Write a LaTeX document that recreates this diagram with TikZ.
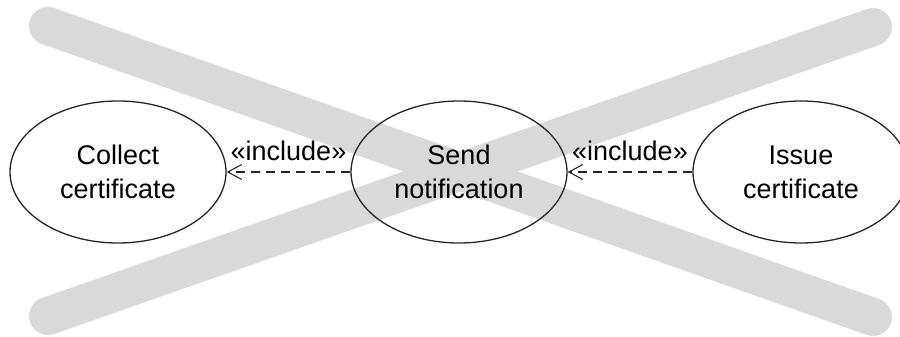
\documentclass[tikz,border=0pt]{standalone}
\usepackage{fontspec}
\setmainfont{Liberation Sans}
\usetikzlibrary{shapes.geometric,arrows.meta}
\definecolor{crossgray}{HTML}{D9D9D9}
\tikzset{
  usecase/.style={ellipse, draw=black!85, line width=1.3pt, inner sep=0pt,
    minimum width=216pt, minimum height=142pt, align=center,
    font=\fontsize{27}{34}\selectfont},
  crossbar/.style={draw=crossgray, line width=38pt, line cap=round},
  includes/.style={draw=black!85, line width=1.1pt, dash pattern=on 9pt off 6pt,
    -{Straight Barb[length=14pt,width=15pt,line width=1.1pt]}},
  stereo/.style={font=\fontsize{27}{34}\selectfont, inner sep=0pt, text=black}
}
\begin{document}
\begin{tikzpicture}[x=1pt,y=-1pt]
  \useasboundingbox (0,0) rectangle (900,337);
  % the grey cross behind the diagram
  \coordinate (tl) at (48,26);
  \coordinate (br) at (873,317);
  \coordinate (bl) at (48,316);
  \coordinate (tr) at (873,27);
  \draw[crossbar] (tl) -- (br);
  \draw[crossbar] (bl) -- (tr);
  % use cases
  \node[usecase] (collect) at (118,172) {Collect\\certificate};
  \node[usecase] (send) at (459,172) {Send\\notification};
  \node[usecase] (issue) at (801,172) {Issue\\certificate};
  % include relations
  \draw[includes] (send) -- node[stereo, above=11pt] {«include»} (collect);
  \draw[includes] (issue) -- node[stereo, above=11pt] {«include»} (send);
\end{tikzpicture}
\end{document}
